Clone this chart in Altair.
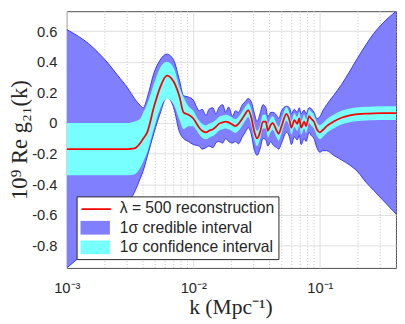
import altair as alt
import pandas as pd

# ---- data ----
k = [0.001, 0.00124, 0.00148, 0.00177, 0.00212, 0.00253, 0.00302, 0.00343, 0.00381, 0.004024,
     0.00432, 0.0049, 0.00545, 0.00618, 0.0070, 0.00779, 0.00836, 0.00914, 0.0100,
     0.01055, 0.01113, 0.01174, 0.01261, 0.0133, 0.01428, 0.01507, 0.0159, 0.01708, 0.01801,
     0.0190, 0.02041, 0.02153, 0.02272, 0.0244, 0.02574, 0.02716, 0.02867, 0.03024, 0.0319,
     0.03366, 0.03551, 0.03746, 0.03881, 0.04096, 0.04245, 0.0456, 0.04726, 0.04983, 0.0545,
     0.0575, 0.05957, 0.06284, 0.06629, 0.06874, 0.0712, 0.07512, 0.0779, 0.08216, 0.08512,
     0.0898, 0.09474, 0.1, 0.1055, 0.1133, 0.1284, 0.1481, 0.173, 0.2006, 0.231, 0.2669,
     0.313, 0.402]

reconstruction = [-0.17, -0.17, -0.17, -0.17, -0.17, -0.17, -0.17, -0.165, -0.13, -0.10,
                  -0.06, 0.11, 0.23, 0.31, 0.27, 0.17, 0.07, 0.055, 0.03,
                  0.00, -0.03, -0.05, -0.06, -0.05, -0.04, -0.025, -0.005, 0.005, 0.01,
                  0.005, -0.01, -0.02, -0.005, 0.03, 0.06, 0.085, 0.04, -0.05, -0.10,
                  -0.06, 0.01, 0.01, -0.05, -0.01, 0.00, -0.05, -0.07, -0.02, 0.06,
                  0.02, -0.03, 0.02, -0.005, 0.03, -0.03, 0.01, -0.02, 0.045, 0.03,
                  0.01, -0.04, -0.06, -0.045, -0.02, 0.01, 0.035, 0.05, 0.058, 0.062, 0.064,
                  0.065, 0.065]

conf_lo = [-0.34, -0.34, -0.34, -0.34, -0.34, -0.34, -0.34, -0.335, -0.29, -0.25,
           -0.19, -0.03, 0.09, 0.16, 0.12, 0.02, -0.04, -0.02, -0.02,
           -0.045, -0.075, -0.095, -0.105, -0.095, -0.085, -0.07, -0.05, -0.04, -0.035,
           -0.04, -0.055, -0.065, -0.05, -0.015, 0.015, 0.04, -0.01, -0.10, -0.15,
           -0.105, -0.035, -0.035, -0.095, -0.055, -0.045, -0.095, -0.115, -0.065, 0.015,
           -0.025, -0.075, -0.025, -0.05, -0.015, -0.075, -0.035, -0.065, 0.0, -0.015,
           -0.035, -0.085, -0.105, -0.09, -0.065, -0.035, -0.01, 0.005, 0.013, 0.017, 0.019,
           0.02, 0.02]

conf_hi = [0.00, 0.00, 0.00, 0.00, 0.00, 0.00, 0.00, 0.01, 0.03, 0.07,
           0.125, 0.26, 0.36, 0.40, 0.36, 0.23, 0.17, 0.11, 0.08,
           0.045, 0.015, -0.005, -0.015, -0.005, 0.005, 0.02, 0.04, 0.05, 0.055,
           0.05, 0.035, 0.025, 0.04, 0.075, 0.105, 0.13, 0.09, 0.00, -0.05,
           -0.015, 0.055, 0.055, -0.005, 0.035, 0.045, -0.005, -0.025, 0.025, 0.105,
           0.065, 0.015, 0.065, 0.04, 0.075, 0.015, 0.055, 0.025, 0.09, 0.075,
           0.055, 0.005, -0.015, 0.0, 0.025, 0.055, 0.08, 0.095, 0.103, 0.107, 0.109,
           0.11, 0.11]

cred_lo = [-0.945, -0.88, -0.83, -0.77, -0.70, -0.62, -0.53, -0.45, -0.36, -0.31,
           -0.22, -0.06, 0.06, 0.17, 0.10, -0.06, -0.10, -0.12, -0.14,
           -0.145, -0.15, -0.17, -0.16, -0.15, -0.16, -0.13, -0.12, -0.13, -0.10,
           -0.12, -0.13, -0.12, -0.135, -0.09, -0.06, -0.03, -0.07, -0.17, -0.21,
           -0.17, -0.10, -0.11, -0.15, -0.12, -0.14, -0.16, -0.17, -0.13, -0.06,
           -0.09, -0.14, -0.09, -0.11, -0.08, -0.14, -0.10, -0.12, -0.06, -0.08,
           -0.10, -0.16, -0.19, -0.18, -0.18, -0.21, -0.24, -0.275, -0.32, -0.385, -0.44,
           -0.50, -0.595]

cred_hi = [0.61, 0.565, 0.52, 0.46, 0.39, 0.31, 0.23, 0.16, 0.115, 0.10,
           0.165, 0.33, 0.41, 0.45, 0.41, 0.275, 0.18, 0.17, 0.15,
           0.11, 0.08, 0.09, 0.05, 0.09, 0.10, 0.06, 0.10, 0.12, 0.07,
           0.105, 0.045, 0.08, 0.07, 0.12, 0.14, 0.16, 0.14, 0.07, 0.01,
           0.06, 0.12, 0.10, 0.04, 0.07, 0.07, 0.05, 0.03, 0.08, 0.11,
           0.10, 0.06, 0.09, 0.07, 0.10, 0.06, 0.085, 0.06, 0.10, 0.095,
           0.07, 0.03, 0.04, 0.08, 0.12, 0.18, 0.25, 0.34, 0.43, 0.51, 0.585,
           0.65, 0.73]

x_major = [0.001, 0.01, 0.1]
x_minor = [0.002, 0.003, 0.004, 0.005, 0.006, 0.007, 0.008, 0.009,
           0.02, 0.03, 0.04, 0.05, 0.06, 0.07, 0.08, 0.09, 0.2, 0.3, 0.4]
y_ticks = [-0.8, -0.6, -0.4, -0.2, 0, 0.2, 0.4, 0.6]

LINE_LABEL = "λ = 500 reconstruction"
CRED_LABEL = "1σ credible interval"
CONF_LABEL = "1σ confidence interval"

RED = "#ff0000"
BLUE_FILL = "#8080ff"
BLUE_EDGE = "#3535ff"
CYAN = "#78ffff"
TXT = "#262626"

df = pd.DataFrame({"k": k, "rec": reconstruction, "conf_lo": conf_lo, "conf_hi": conf_hi,
                   "cred_lo": cred_lo, "cred_hi": cred_hi})
minor_df = pd.DataFrame({"k": x_minor})

xscale = alt.Scale(type="log", domain=[0.001, 0.4], nice=False)
yscale = alt.Scale(domain=[-0.945, 0.73], nice=False, zero=False)
fill_scale = alt.Scale(domain=[LINE_LABEL, CRED_LABEL, CONF_LABEL],
                       range=["transparent", BLUE_FILL, CYAN])
stroke_scale = alt.Scale(domain=[LINE_LABEL], range=[RED])

xaxis = alt.Axis(values=x_major,
                 labelExpr="datum.value < 0.005 ? '10⁻³' : (datum.value < 0.05 ? '10⁻²' : '10⁻¹')",
                 grid=True, gridColor="#dedede", ticks=False, tickSize=0, domain=False,
                 labelFont="Liberation Sans", labelFontSize=15, labelColor=TXT,
                 labelPadding=13, labelFlush=False, labelOverlap=False,
                 title="k (Mpc⁻¹)", titleFont="Liberation Serif", titleFontSize=22,
                 titleFontWeight="normal", titleColor=TXT, titleX=167, titleY=47,
                 titleBaseline="alphabetic", titleAlign="center")

yaxis = alt.Axis(values=y_ticks,
                 labelExpr="datum.value == 0 ? '0' : replace(format(datum.value, '.1f'), '−', '-')",
                 grid=True, gridColor="#dedede", ticks=False, tickSize=0, domain=False,
                 labelFont="Liberation Sans", labelFontSize=15, labelColor=TXT, labelPadding=10,
                 labelOverlap=False, labelFlush=False,
                 title="10⁹ Re g₂₁(k)", titleFont="Liberation Serif", titleFontSize=23,
                 titleFontWeight="normal", titleColor=TXT, titleX=-41, titleY=131,
                 titleAngle=270, titleBaseline="alphabetic", titleAlign="center")

RECT = "M-1.875,-0.875H1.875V0.875H-1.875Z"
LINE = "M-1.875,0H1.875"
common_legend = dict(title=None, orient="none", legendX=10, legendY=189, direction="vertical",
                     padding=4, labelFont="Liberation Sans", labelFontSize=16, labelColor=TXT,
                     labelLimit=400, rowPadding=4, symbolSize=256, symbolOffset=7)

fill_legend = alt.Legend(fillColor="white", strokeColor=TXT, symbolType=RECT,
                         symbolStrokeWidth=0, symbolOpacity=1, labelOffset=17, zindex=1,
                         **common_legend)
stroke_legend = alt.Legend(symbolType=LINE, symbolStrokeWidth=1.8, symbolOpacity=1,
                           labelExpr="''", labelOffset=17, zindex=2, **common_legend)

X = alt.X("k:Q", scale=xscale, axis=xaxis)


def Y(field):
    return alt.Y(field, type="quantitative", scale=yscale, axis=yaxis)


minor_grid = alt.Chart(minor_df).mark_rule(strokeDash=[1, 2], color="#c4c4c4", strokeWidth=1).encode(
    x=X)

base = alt.Chart(df)

cred_area = base.transform_calculate(series=f"'{CRED_LABEL}'").mark_area(
    interpolate="monotone", clip=True, opacity=1).encode(
    x=X, y=Y("cred_lo"), y2="cred_hi:Q",
    fill=alt.Fill("series:N", scale=fill_scale, legend=fill_legend))

cred_hi_line = base.mark_line(interpolate="monotone", clip=True, strokeWidth=1).encode(
    x=X, y=Y("cred_hi"), color=alt.value(BLUE_EDGE))
cred_lo_line = base.mark_line(interpolate="monotone", clip=True, strokeWidth=1).encode(
    x=X, y=Y("cred_lo"), color=alt.value(BLUE_EDGE))

conf_area = base.transform_calculate(series=f"'{CONF_LABEL}'").mark_area(
    interpolate="monotone", clip=True, opacity=1).encode(
    x=X, y=Y("conf_lo"), y2="conf_hi:Q",
    fill=alt.Fill("series:N", scale=fill_scale, legend=fill_legend))

rec_line = base.transform_calculate(series=f"'{LINE_LABEL}'").mark_line(
    interpolate="monotone", clip=True, strokeWidth=1.8).encode(
    x=X, y=Y("rec"),
    stroke=alt.Stroke("series:N", scale=stroke_scale, legend=stroke_legend))

chart = alt.layer(minor_grid, cred_area, cred_hi_line, cred_lo_line, conf_area, rec_line).properties(
    width=336, height=262,
    autosize=alt.AutoSizeParams(type="none"),
    padding={"left": 60, "top": 0, "right": 1, "bottom": 56},
    background="white",
).configure_view(stroke="#4d4d4d", strokeWidth=1)

chart.save("out.html", embed_options={"renderer": "svg", "actions": False})
